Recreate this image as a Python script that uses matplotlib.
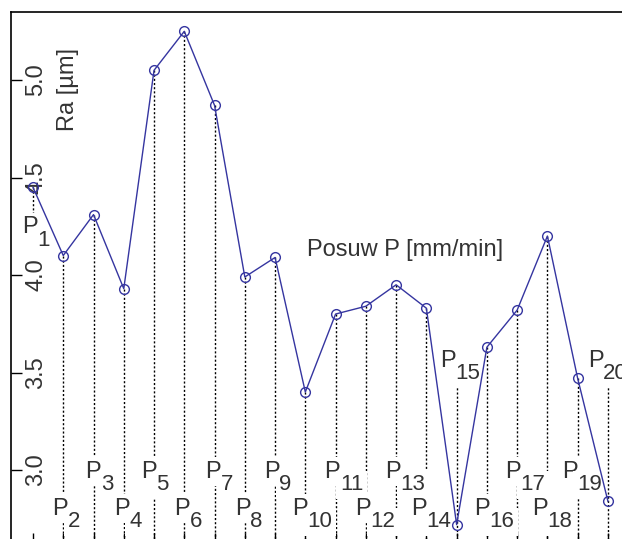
import matplotlib.pyplot as plt

# chart data
points = list(range(1, 21))
ra = [4.45, 4.10, 4.31, 3.93, 5.05, 5.25, 4.87, 3.99, 4.09, 3.40,
      3.80, 3.84, 3.95, 3.83, 2.72, 3.63, 3.82, 4.20, 3.47, 2.84]
names = ["P"] * 20
subs = [str(i) for i in points]
yticks = [3.0, 3.5, 4.0, 4.5, 5.0]
ytick_labels = ["3.0", "3.5", "4.0", "4.5", "5.0"]

# where each P label sits (data y of the "P" baseline) and its left shift in px
upper, lower, high = 2.96, 2.77, 3.53
label_y = [4.215] + [lower if i % 2 == 0 else upper for i in range(2, 15)] \
    + [high, lower, upper, lower, upper, high]
label_dx = [-11, -11, -8, -10, -13, -10, -9, -10, -11, -13,
            -11, -11, -11, -15, -17, -13, -12, -15, -16, -20]

plt.rcParams['font.family'] = ['Liberation Sans', 'DejaVu Sans']
txt = '#333333'
blue = '#3535a0'

fig = plt.figure(figsize=(6.22, 5.39), dpi=100)
ax = fig.add_axes([11 / 622, -2 / 539, 629 / 622, 529 / 539])
ax.set_xlim(0.273, 21.06)
ax.set_ylim(2.636, 5.349)

# dotted drop lines
for i, (x, y, ly) in enumerate(zip(points, ra, label_y)):
    if i == 0:
        ax.plot([x, x], [y, ly + 0.08], color='black', lw=1,
                ls=(0, (1.5, 1.5)), zorder=1)
    else:
        top = max(y, ly)
        ax.plot([x, x], [top, 2.636], color='black', lw=1,
                ls=(0, (1.5, 1.5)), zorder=1)

# P labels
for x, ly, dx, n, s in zip(points, label_y, label_dx, names, subs):
    box = dict(facecolor='white', edgecolor='none', pad=2.5)
    off = dx * 0.72
    ax.annotate(n, (x, ly), xytext=(off, 0), textcoords='offset points',
                ha='left', va='baseline', fontsize=17, color=txt,
                bbox=box, zorder=2)
    ax.annotate(s, (x, ly), xytext=(off + 11, -9), textcoords='offset points',
                ha='left', va='baseline', fontsize=16, color=txt,
                bbox=box, zorder=2)

ax.plot(points, ra, color=blue, lw=1, marker='o', ms=7, mfc='none',
        mec=blue, mew=1, zorder=4)

ax.text(2.16, 4.954, "Ra [µm]", rotation=90, ha='center', va='center',
        fontsize=17, color=txt)
ax.text(13.29, 4.128, "Posuw P [mm/min]", ha='center', va='center',
        fontsize=17, color=txt)

ax.set_xticks(points)
ax.set_xticklabels([])
ax.tick_params(axis='x', direction='in', length=6, width=1, color='black')
ax.set_yticks(yticks)
ax.set_yticklabels(ytick_labels)
ax.tick_params(axis='y', direction='in', length=8, width=1, pad=-26,
               labelrotation=90, labelsize=17, labelcolor=txt)
for lab in ax.get_yticklabels():
    lab.set_verticalalignment('center')

for sp in ax.spines.values():
    sp.set_linewidth(1.2)

fig.savefig('out.png', dpi=100)
